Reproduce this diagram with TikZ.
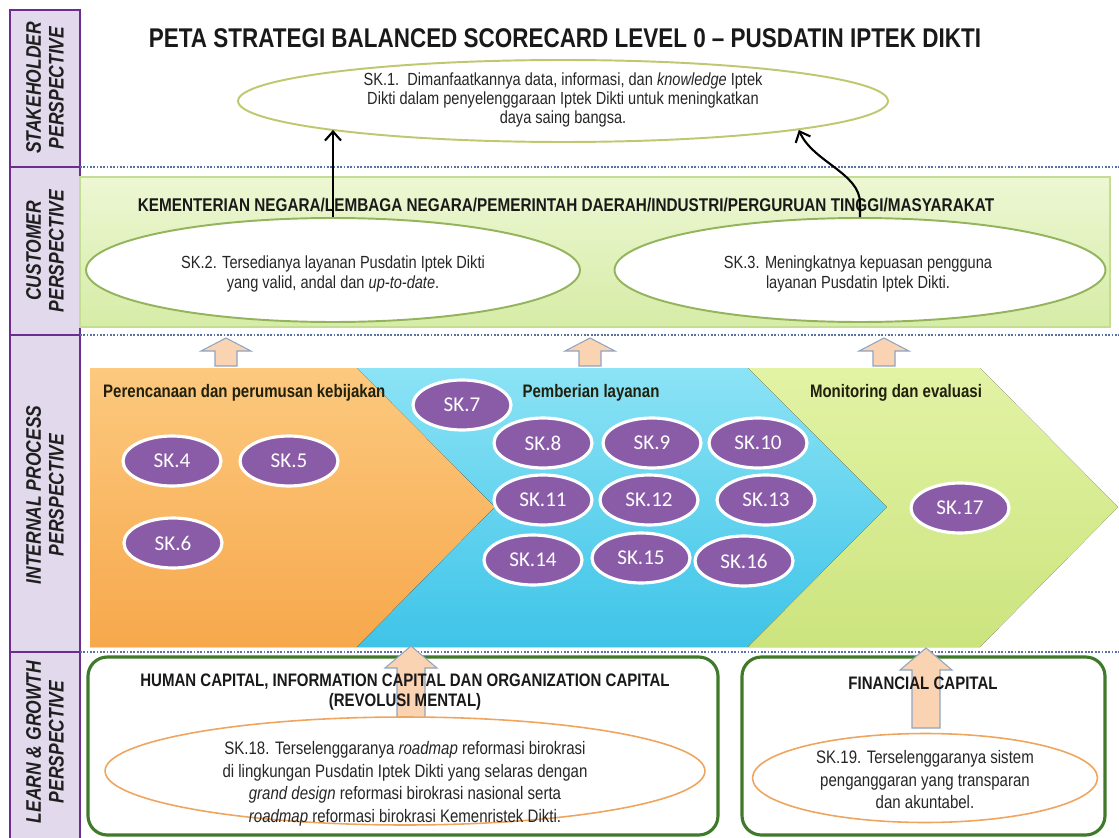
\documentclass[tikz,border=0pt]{standalone}
\usepackage{fontspec}
\setmainfont{Liberation Sans}
\newfontfamily\narrowfont[FakeStretch=0.83]{Liberation Sans}
\newfontfamily\calfont{Carlito}
\usetikzlibrary{shapes.geometric, arrows.meta}

\definecolor{colpurple}{HTML}{6B2D8F}
\definecolor{colfill}{HTML}{E2D9EC}
\definecolor{sepblue}{HTML}{5672A8}
\definecolor{olivering}{HTML}{BFC86E}
\definecolor{custtop}{HTML}{EDF7D4}
\definecolor{custbot}{HTML}{D6ECA6}
\definecolor{custedge}{HTML}{C3DE92}
\definecolor{goalgreen}{HTML}{93B45C}
\definecolor{orangetop}{HTML}{FCC97F}
\definecolor{orangebot}{HTML}{F7A84C}
\definecolor{bluetop}{HTML}{8CE3F5}
\definecolor{bluebot}{HTML}{3EC4E8}
\definecolor{greentop}{HTML}{E2F3A5}
\definecolor{greenbot}{HTML}{CCE47E}
\definecolor{skpurple}{HTML}{8A5CA7}
\definecolor{peach}{HTML}{FAD3B3}
\definecolor{arredge}{HTML}{8FA5C2}
\definecolor{capgreen}{HTML}{3F7A2B}
\definecolor{caporange}{HTML}{EFA55E}
\definecolor{headtxt}{HTML}{20200C}

\begin{document}
\begin{tikzpicture}[
    x=0.02cm, y=-0.02cm,
    persp/.style={rotate=90, align=center, text=black!88, font=\narrowfont\bfseries\itshape\fontsize{12}{13}\selectfont},
    sepline/.style={draw=sepblue, line width=1.1pt, dash pattern=on 1pt off 0.9pt},
    goal/.style={ellipse, draw=goalgreen, fill=white, line width=1.1pt, inner sep=0pt},
    capgoal/.style={ellipse, draw=caporange, fill=white, line width=0.9pt, inner sep=0pt},
    body/.style={align=center, text=black!85, font=\narrowfont\fontsize{10}{10.6}\selectfont},
    capbody/.style={align=center, text=black!85, font=\narrowfont\fontsize{10.3}{12.8}\selectfont},
    head/.style={align=center, text=headtxt, font=\narrowfont\bfseries\fontsize{10.3}{11}\selectfont},
    sk/.style={ellipse, fill=skpurple, draw=white, line width=1.8pt, inner sep=0pt, minimum width=1.96cm, minimum height=1cm, text=white, font=\calfont\fontsize{12}{12}\selectfont},
    link/.style={-{Straight Barb[length=1.8mm, width=3.2mm]}, line width=1.2pt},
    blockarr/.style={fill=peach, draw=arredge, line width=0.6pt},
    capbox/.style={draw=capgreen, fill=white, line width=1.8pt, rounded corners=11pt}
  ]

  \useasboundingbox (0,0) rectangle (1119,838);
  \fill[white] (0,0) rectangle (1119,838);

  % perspective column
  \draw[colpurple, fill=colfill, line width=1.4pt] (10,10) rectangle (80,848);
  \foreach \yy in {167,335,652}
    \draw[colpurple, line width=1.4pt] (10,\yy) -- (80,\yy);
  \node[persp] (pstake) at (45,88) {STAKEHOLDER\\PERSPECTIVE};
  \node[persp] (pcust) at (45,251) {CUSTOMER\\PERSPECTIVE};
  \node[persp] (pint) at (45,495) {INTERNAL PROCESS\\PERSPECTIVE};
  \node[persp] (plearn) at (45,742) {LEARN \& GROWTH\\PERSPECTIVE};

  % dotted separators
  \foreach \yy in {167,335,652}
    \draw[sepline] (80,\yy) -- (1119,\yy);

  % stakeholder
  \node[font=\narrowfont\bfseries\fontsize{15.4}{17}\selectfont, text=black!90] (title) at (565,38)
    {PETA STRATEGI BALANCED SCORECARD LEVEL 0 – PUSDATIN IPTEK DIKTI};
  \node[goal, draw=olivering, minimum width=13cm, minimum height=1.64cm] (sk1) at (563,101) {};
  \node[body] (sk1txt) at (563,100) {SK.1.\ \ Dimanfaatkannya data, informasi, dan \textit{knowledge} Iptek\\Dikti dalam penyelenggaraan Iptek Dikti untuk meningkatkan\\daya saing bangsa.};

  % customer
  \draw[draw=custedge, top color=custtop, bottom color=custbot, line width=0.8pt] (80,177) rectangle (1110,327);
  \node[head, text=black!90, font=\narrowfont\bfseries\fontsize{10.5}{11}\selectfont] (custhead) at (566,205)
    {KEMENTERIAN NEGARA/LEMBAGA NEGARA/PEMERINTAH DAERAH/INDUSTRI/PERGURUAN TINGGI/MASYARAKAT};
  \node[goal, minimum width=9.88cm, minimum height=2.08cm] (sk2) at (333,270) {};
  \node[body, font=\narrowfont\fontsize{10}{11}\selectfont] (sk2txt) at (333,274) {SK.2. Tersedianya layanan Pusdatin Iptek Dikti\\yang valid, andal dan \textit{up-to-date}.};
  \node[goal, minimum width=9.82cm, minimum height=2.08cm] (sk3) at (860,270) {};
  \node[body, font=\narrowfont\fontsize{10}{11}\selectfont] (sk3txt) at (858,274) {SK.3. Meningkatnya kepuasan pengguna\\layanan Pusdatin Iptek Dikti.};

  % links to SK.1
  \draw[link] (sk2.north) -- (sk2.north |- sk1.187);
  \draw[link] (sk3.north) -- ++(0,-14) .. controls +(0,-30) and +(14,32) .. (sk1.-7);

  % internal process chevrons
  \fill[top color=orangetop, bottom color=orangebot] (90,368) -- (357,368) -- (495,507) -- (357,647) -- (90,647) -- cycle;
  \fill[top color=bluetop, bottom color=bluebot] (357,368) -- (748,368) -- (887,507) -- (748,647) -- (357,647) -- (495,507) -- cycle;
  \fill[top color=greentop, bottom color=greenbot] (748,368) -- (980,368) -- (1118,507) -- (980,647) -- (748,647) -- (887,507) -- cycle;

  \foreach \ax in {226,590,884}
    \draw[blockarr] ({\ax-11},366) -- ({\ax-11},351) -- ({\ax-25},351) -- (\ax,338) -- ({\ax+25},351) -- ({\ax+11},351) -- ({\ax+11},366) -- cycle;

  \node[head, anchor=west] (hplan) at (97,393) {Perencanaan dan perumusan kebijakan};
  \node[head] (hserv) at (591,393) {Pemberian layanan};
  \node[head] (hmon) at (896,393) {Monitoring dan evaluasi};

  \foreach \n/\cx/\cy in {4/172/461, 5/289/461, 6/173/543, 7/462/405, 8/543/443, 9/652/443, 10/758/443,
      11/543/500, 12/649/500, 13/766/500, 14/533/560, 15/641/558, 16/744/561, 17/960/508}
    \node[sk] (sk\n) at (\cx,\cy) {SK.\n};

  % learn & growth
  \draw[capbox] (88,657) rectangle (718,835);
  \draw[capbox] (742,657) rectangle (1105,835);

  \foreach \ax/\ay/\by in {411/646/718, 926/648/728}
    \draw[blockarr] ({\ax-14},\by) -- ({\ax-14},{\ay+22}) -- ({\ax-26},{\ay+22}) -- (\ax,\ay) -- ({\ax+26},{\ay+22}) -- ({\ax+14},{\ay+22}) -- ({\ax+14},\by) -- cycle;

  \node[head, text=black!90] (hhuman) at (405,692) {HUMAN CAPITAL, INFORMATION CAPITAL DAN ORGANIZATION CAPITAL\\(REVOLUSI MENTAL)};
  \node[head, text=black!90] (hfin) at (923,683) {FINANCIAL CAPITAL};

  \node[capgoal, minimum width=12cm, minimum height=2.16cm] (sk18) at (405,771) {};
  \node[capbody] (sk18txt) at (405,784) {SK.18. Terselenggaranya \textit{roadmap} reformasi birokrasi\\di lingkungan Pusdatin Iptek Dikti yang selaras dengan\\\textit{grand design} reformasi birokrasi nasional serta\\\textit{roadmap} reformasi birokrasi Kemenristek Dikti.};
  \node[capgoal, minimum width=6.9cm, minimum height=1.78cm] (sk19) at (925,778) {};
  \node[capbody] (sk19txt) at (925,780) {SK.19. Terselenggaranya sistem\\penganggaran yang transparan\\dan akuntabel.};
\end{tikzpicture}
\end{document}
